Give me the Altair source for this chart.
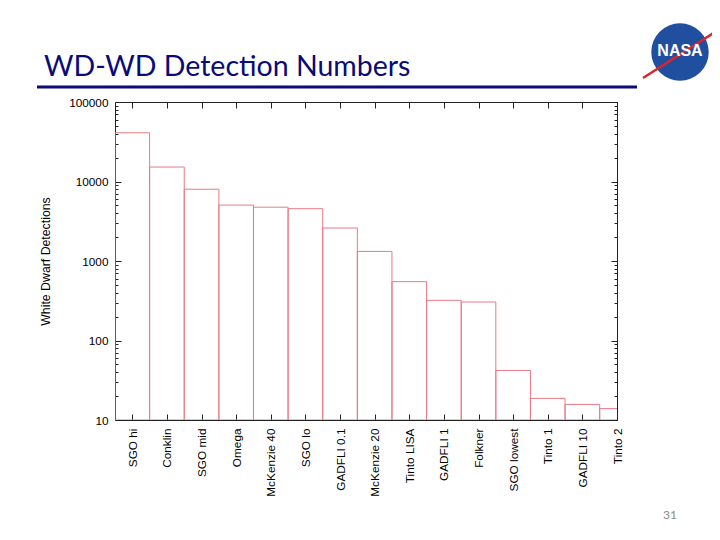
import json
import altair as alt
import pandas as pd

# ---- data ----
categories = ["SGO hi", "Conklin", "SGO mid", "Omega", "McKenzie 40", "SGO lo",
              "GADFLI 0.1", "McKenzie 20", "Tinto LISA", "GADFLI 1", "Folkner",
              "SGO lowest", "Tinto 1", "GADFLI 10", "Tinto 2"]
detections = [41000, 15200, 8000, 5050, 4750, 4550, 2600, 1320, 550, 320, 305,
              42, 18.7, 15.7, 13.9]
major_ticks = [10, 100, 1000, 10000, 100000]
minor_ticks = [m * 10 ** e for e in range(1, 5) for m in range(2, 10)]
positions = list(range(len(categories)))

df = pd.DataFrame({
    "category": categories,
    "idx": positions,
    "detections": detections,
})
df["x0"] = df["idx"] - 0.5
df["x1"] = df["idx"] + 0.5
df["base"] = 10

W, H = 502, 318
FONT = "Liberation Sans"
LS = 11.8
xscale = alt.Scale(domain=[-0.5, 14], nice=False, zero=False)
yscale = alt.Scale(type="log", domain=[10, 100000], nice=False)
label_expr = json.dumps(categories) + "[datum.value]"

common_axis = dict(domain=False, grid=False, tickColor="#222", tickWidth=1)

bars = alt.Chart(df).mark_rect(
    fill="white", fillOpacity=0, stroke="#e97a86", strokeWidth=1, clip=True
).encode(
    x=alt.X("x0:Q", scale=xscale, axis=alt.Axis(
        orient="bottom", values=positions, labelExpr=label_expr, labelAngle=270,
        offset=-6, tickSize=6, labelPadding=8, title=None, labelFlush=False,
        labelOverlap=False, labelFont=FONT, labelFontSize=LS, labelColor="#000",
        **common_axis)),
    x2="x1:Q",
    y=alt.Y("detections:Q", scale=yscale, axis=alt.Axis(
        orient="left", values=major_ticks, format="d", offset=-6, tickSize=6,
        labelPadding=7, labelFont=FONT, labelFontSize=LS, labelColor="#000",
        title="White Dwarf Detections", titleFont=FONT, titleFontSize=12.3,
        titleFontWeight="normal", titleColor="#000", titlePadding=16,
        **common_axis)),
    y2="base:Q",
)

mirror_major = alt.Chart(df).mark_rect(opacity=0).encode(
    x=alt.X("x0:Q", scale=xscale, axis=alt.Axis(
        orient="top", values=positions, labels=False, offset=-6, tickSize=6,
        title=None, **common_axis)),
    x2="x1:Q",
    y=alt.Y("detections:Q", scale=yscale, axis=alt.Axis(
        orient="right", values=major_ticks, labels=False, offset=-6, tickSize=6,
        title=None, **common_axis)),
    y2="base:Q",
)

minor_left = alt.Chart(df).mark_rect(opacity=0).encode(
    x=alt.X("x0:Q", scale=xscale, axis=None),
    x2="x1:Q",
    y=alt.Y("detections:Q", scale=yscale, axis=alt.Axis(
        orient="left", values=minor_ticks, labels=False, offset=-3, tickSize=3,
        title=None, **common_axis)),
    y2="base:Q",
)

minor_right = alt.Chart(df).mark_rect(opacity=0).encode(
    x=alt.X("x0:Q", scale=xscale, axis=None),
    x2="x1:Q",
    y=alt.Y("detections:Q", scale=yscale, axis=alt.Axis(
        orient="right", values=minor_ticks, labels=False, offset=-3, tickSize=3,
        title=None, **common_axis)),
    y2="base:Q",
)

# ---- slide decorations ----
one = pd.DataFrame({"title": ["WD-WD Detection Numbers"], "logo": ["NASA"], "page": ["31"]})

slide_title = alt.Chart(one).mark_text(
    align="left", baseline="alphabetic", font="Lato", fontSize=28.5, color="#0a0a78"
).encode(x=alt.value(-71), y=alt.value(-26), text="title:N")

underline = alt.Chart(one).mark_rule(color="#0a0a78", strokeWidth=3).encode(
    x=alt.value(-78), x2=alt.value(522), y=alt.value(-15))

logo_disc = alt.Chart(one).mark_circle(size=3300, color="#1f4f9e", opacity=1).encode(
    x=alt.value(565), y=alt.value(-50))

logo_swoosh = alt.Chart(one).mark_rule(color="#d8262c", strokeWidth=2.5).encode(
    x=alt.value(528), x2=alt.value(600), y=alt.value(-24), y2=alt.value(-70))

logo_text = alt.Chart(one).mark_text(
    font=FONT, fontSize=16, fontWeight="bold", color="white", baseline="middle"
).encode(x=alt.value(565), y=alt.value(-51), text="logo:N")

page_no = alt.Chart(one).mark_text(
    font="Lato", fontSize=12, color="#8a8a8a", baseline="middle"
).encode(x=alt.value(555), y=alt.value(413), text="page:N")

chart = alt.layer(
    bars, mirror_major, minor_left, minor_right,
    slide_title, underline, logo_disc, logo_swoosh, logo_text, page_no,
).resolve_axis(
    x="independent", y="independent"
).properties(
    width=W, height=H,
    autosize=alt.AutoSizeParams(type="none"),
    padding={"left": 107, "top": 94, "right": 95, "bottom": 105},
    background="white",
).configure_view(stroke="#222", strokeWidth=1)

chart.save("out.html", embed_options={"renderer": "svg", "actions": False})
